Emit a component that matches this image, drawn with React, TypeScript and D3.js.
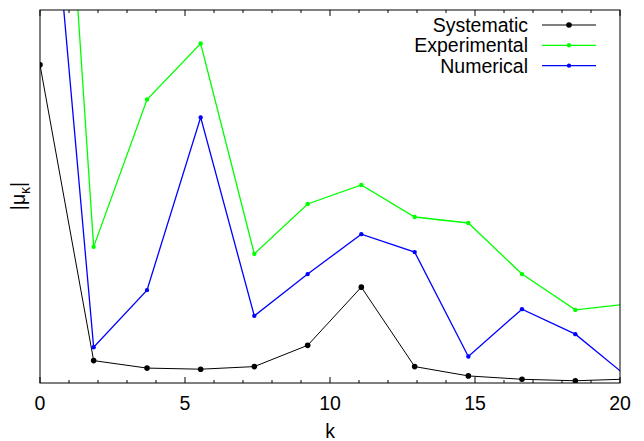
import React from "react";
import * as d3 from "d3";

const kValues = [0, 1.85, 3.69, 5.54, 7.39, 9.23, 11.08, 12.92, 14.77, 16.62, 18.46, 20.31];
const systematic = [85.3, 6.0, 4.0, 3.7, 4.4, 10.1, 25.7, 4.4, 1.9, 1.0, 0.6, 1.07];
const experimental = [253, 36.5, 76.0, 91.0, 34.6, 48.0, 53.1, 44.5, 42.9, 29.2, 19.6, 21.2];
const numerical = [172, 9.6, 24.9, 71.2, 18.0, 29.2, 39.9, 35.1, 7.1, 19.8, 13.1, 1.3];
const xTicks = [0, 5, 10, 15, 20];
const minorTicks = d3.range(0, 21, 1);

const seriesList = [
  { name: "Systematic", values: systematic, color: "#000000", width: 1, r: 2.8 },
  { name: "Experimental", values: experimental, color: "#00ff00", width: 1.3, r: 2.2 },
  { name: "Numerical", values: numerical, color: "#0000ff", width: 1.3, r: 2.2 },
];

const W = 644, H = 441;
const L = 40, R = 620, T = 10, B = 383;
const font = "'Liberation Sans', Arial, Helvetica, sans-serif";
const FS = 19.5;

export default function App() {
  const x = d3.scaleLinear().domain([0, 20]).range([L, R]);
  const y = d3.scaleLinear().domain([0, 100]).range([B, T]);
  const line = d3.line<number>().x((_, i) => x(kValues[i])).y((d) => y(d));

  return (
    <svg width={W} height={H} style={{ position: "absolute", left: 0, top: 0, background: "#fff" }} fontFamily={font}>
      <defs>
        <clipPath id="plot">
          <rect x={L} y={T} width={R - L} height={B - T} />
        </clipPath>
      </defs>
      <g clipPath="url(#plot)">
        {seriesList.map((s) => (
          <g key={s.name}>
            <path d={line(s.values) || ""} fill="none" stroke={s.color} strokeWidth={s.width} />
            {s.values.map((v, i) => (
              <circle key={i} cx={x(kValues[i])} cy={y(v)} r={s.r} fill={s.color} />
            ))}
          </g>
        ))}
      </g>
      {minorTicks.map((t) => {
        const len = t % 5 === 0 ? 6 : 3;
        return (
          <g key={t} stroke="#000" strokeWidth={1}>
            <line x1={x(t)} x2={x(t)} y1={B} y2={B - len} />
            <line x1={x(t)} x2={x(t)} y1={T} y2={T + len} />
          </g>
        );
      })}
      <rect x={L} y={T} width={R - L} height={B - T} fill="none" stroke="#000" strokeWidth={1} />
      {xTicks.map((t) => (
        <text key={t} x={x(t)} y={410} textAnchor="middle" fontSize={FS} fill="#000">
          {t}
        </text>
      ))}
      <text x={330} y={437.5} textAnchor="middle" fontSize={FS} fill="#000">k</text>
      <text transform={`translate(24.5,196) rotate(-90)`} textAnchor="middle" fontSize={FS} fill="#000">
        |μ<tspan dy={5} fontSize={14}>κ</tspan><tspan dy={-5}>|</tspan>
      </text>
      {seriesList.map((s, i) => {
        const ly = 25 + i * 20.3;
        return (
          <g key={s.name}>
            <text x={528} y={ly + 7} textAnchor="end" fontSize={FS} fill="#000">{s.name}</text>
            <line x1={542} x2={596} y1={ly} y2={ly} stroke={s.color} strokeWidth={s.width} />
            <circle cx={569} cy={ly} r={s.r} fill={s.color} />
          </g>
        );
      })}
    </svg>
  );
}
